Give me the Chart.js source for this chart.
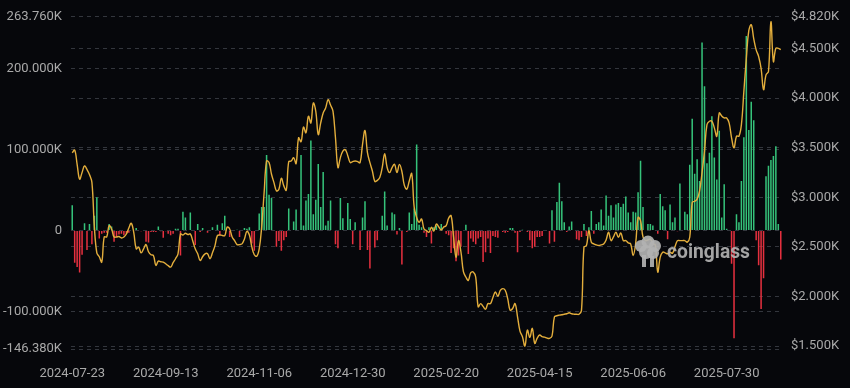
<!DOCTYPE html>
<html>
<head>
<meta charset="utf-8">
<script src="https://cdn.jsdelivr.net/npm/chart.js@4.4.1/dist/chart.umd.min.js"></script>
<style>
  html, body { margin: 0; padding: 0; background: #06070b; }
  #wrap { width: 850px; height: 388px; position: relative; }
</style>
</head>
<body>
<div id="wrap"><canvas id="chart-flows"></canvas></div>
<script>
// ETH ETF net flow (K ETH, one value per weekday from START_DATE) and ETH price (USD)
const START_DATE = "2024-07-23";

const TICK_LABELS = ["2024-07-23", "2024-09-13", "2024-11-06", "2024-12-30",
  "2025-02-20", "2025-04-15", "2025-06-06", "2025-07-30"];

const LEFT_TICKS = [-146.38, -100, 0, 100, 200, 263.76];
const RIGHT_TICKS = [1500, 2000, 2500, 3000, 3500, 4000, 4500, 4820];

const FLOWS_K = [
  31, -40, -45, -52, -30, 9, -24, 8, -17, 18,
  41, -10, -4, -3, -3, 8, 5, -14, -8, -5,
  -4, -6, -4, -3, 0, 0, 3, 0, -1, 0,
  -14, -15, -2, -2, -2, 5, -1, -9, -1, -4,
  -6, -4, 2, 2, -31, 23, 16, 0, 22, 0,
  -18, 8, -2, 3, 0, -3, 0, 4, 0, 7,
  -6, 9, 18, 0, -8, 0, 0, 1, -8, 0,
  3, 2, 4, -16, -25, 0, 21, 29, 29, 93,
  44, 40, 0, -20, -13, -25, -12, -8, 27, 0,
  11, 26, 0, 93, 6, 37, 45, 111, 20, 38,
  82, 29, 72, 6, 12, 37, 0, -17, -22, 40,
  15, 0, 34, 14, -17, 10, 0, -24, 16, 36,
  -24, -47, 0, -21, -12, 0, 18, 48, 6, 0,
  22, 20, -5, 3, -42, 0, -2, 22, 8, 27,
  106, 7, 4, -3, -8, 4, -16, 4, 6, 0,
  8, 0, -4, -6, -28, -22, -38, -31, -20, 0,
  7, -29, -10, -14, -17, -10, -8, -39, -27, -10,
  -28, -7, -8, -9, 0, -2, -3, -2, 3, 3,
  -3, -27, -2, 1, 0, -2, -12, -22, -20, -8,
  -8, -7, 0, 0, -16, 25, -14, 35, 59, 36,
  10, -2, 5, 11, 0, -11, -12, -8, 8, -7,
  4, 24, -4, 8, 10, 26, 6, 43, 18, 31,
  16, 32, 34, 29, 33, 42, 22, 10, 23, 22,
  47, 86, 29, 0, 8, 8, 6, 0, -4, 45,
  30, 25, -11, 32, 10, 16, -1, 58, 0, 23,
  20, 81, 138, 70, 88, 61, 232, 178, 83, 96,
  141, 90, 63, 123, 16, 57, 2, 0, -41, -133,
  20, 10, 61, 115, 240, 124, 159, 136, -12, -43,
  -97, -59, 67, 80, 87, 92, 104, 8, -36
];

const PRICE_USD = [
  3449, 3476, 3330, 3182, 3250, 3316, 3280, 3230, 3150, 2700,
  2440, 2400, 2346, 2600, 2600, 2714, 2680, 2600, 2600, 2604,
  2590, 2600, 2630, 2690, 2737, 2647, 2480, 2497, 2440, 2480,
  2523, 2450, 2420, 2413, 2313, 2356, 2350, 2346, 2330, 2310,
  2296, 2340, 2380, 2430, 2630, 2620, 2637, 2624, 2630, 2560,
  2480, 2430, 2363, 2400, 2430, 2430, 2380, 2440, 2510, 2613,
  2620, 2615, 2613, 2700, 2680, 2600, 2563, 2523, 2523, 2530,
  2580, 2657, 2620, 2500, 2420, 2406, 2480, 2700, 3048, 3366,
  3350, 3232, 3148, 3065, 3082, 3192, 3115, 3072, 3359, 3366,
  3399, 3339, 3600, 3560, 3707, 3650, 3817, 3750, 3950, 3867,
  3633, 3750, 3850, 3900, 3984, 3930, 3867, 3600, 3300, 3400,
  3466, 3480, 3420, 3349, 3360, 3366, 3360, 3349, 3533, 3673,
  3450, 3349, 3265, 3160, 3170, 3199, 3299, 3439, 3300, 3249,
  3299, 3332, 3249, 3332, 3260, 3120, 3082, 3165, 3239, 2898,
  2797, 2747, 2781, 2680, 2664, 2647, 2697, 2660, 2731, 2700,
  2670, 2700, 2714, 2790, 2814, 2600, 2396, 2563, 2450, 2250,
  2196, 2162, 2240, 2246, 2196, 1895, 1928, 1900, 1871, 1928,
  1928, 1990, 2045, 2002, 2060, 2079, 2062, 1978, 1861, 1878,
  1928, 1795, 1650, 1594, 1500, 1661, 1587, 1678, 1527, 1580,
  1611, 1594, 1590, 1580, 1577, 1600, 1794, 1805, 1811, 1815,
  1821, 1825, 1835, 1825, 1821, 1820, 1821, 1860, 2497, 2513,
  2664, 2547, 2530, 2520, 2513, 2520, 2530, 2570, 2647, 2563,
  2600, 2647, 2597, 2640, 2563, 2563, 2540, 2530, 2413, 2530,
  2797, 2764, 2600, 2563, 2570, 2580, 2530, 2520, 2246, 2396,
  2446, 2440, 2430, 2446, 2436, 2500, 2563, 2563, 2563, 2563,
  2547, 2597, 2948, 2960, 2981, 3065, 3249, 3466, 3733, 3767,
  3767, 3700, 3616, 3850, 3820, 3800, 3800, 3750, 3600, 3499,
  3616, 3616, 3733, 4068, 4400, 4680, 4740, 4600, 4486, 4420,
  4300, 4085, 4235, 4268, 4770, 4369, 4502, 4502, 4490
];

(function () {
  const COLORS = {
    bg: "#06070b",
    up: "#35c27a",
    down: "#e5303f",
    price: "#e3ae3c",
    grid: "#33363d",
    text: "#a9a9a9",
  };
  const FONT = { family: "Roboto, 'Noto Sans', sans-serif", size: 13 };

  // one category per weekday
  function weekdays(start, n) {
    const out = [];
    const d = new Date(start + "T00:00:00Z");
    while (out.length < n) {
      const wd = d.getUTCDay();
      if (wd !== 0 && wd !== 6) out.push(d.toISOString().slice(0, 10));
      d.setUTCDate(d.getUTCDate() + 1);
    }
    return out;
  }

  const labels = weekdays(START_DATE, FLOWS_K.length);

  const fmtLeft = (v) => (v === 0 ? "0" : v.toFixed(3) + "K");
  const fmtRight = (v) => "$" + (v / 1000).toFixed(3) + "K";

  const watermark = {
    id: "watermark",
    afterDatasetsDraw(chart) {
      const ctx = chart.ctx;
      ctx.save();
      ctx.fillStyle = "rgba(178,178,178,0.92)";
      // logo blob
      [[641, 246, 6], [648, 242, 6.5], [655, 246, 6], [646, 252, 7], [653, 253, 6]].forEach(([x, y, r]) => {
        ctx.beginPath(); ctx.arc(x, y, r, 0, Math.PI * 2); ctx.fill();
      });
      ctx.fillRect(642, 255, 4, 12);
      ctx.fillRect(650, 256, 4, 11);
      ctx.font = "bold 20px Roboto, sans-serif";
      ctx.textBaseline = "alphabetic";
      ctx.fillText("coinglass", 667, 258, 83);
      ctx.restore();
    },
  };

  const bgPlugin = {
    id: "bg",
    beforeDraw(chart) {
      const ctx = chart.ctx;
      ctx.save();
      ctx.fillStyle = COLORS.bg;
      ctx.fillRect(0, 0, chart.width, chart.height);
      ctx.restore();
    },
  };

  new Chart(document.getElementById("chart-flows"), {
    type: "bar",
    data: {
      labels,
      datasets: [
        {
          type: "line",
          label: "Price",
          data: PRICE_USD,
          yAxisID: "y1",
          borderColor: COLORS.price,
          borderWidth: 1.4,
          pointRadius: 0,
          tension: 0.4,
          order: 0,
        },
        {
          type: "bar",
          label: "Net flow",
          data: FLOWS_K,
          yAxisID: "y",
          backgroundColor: FLOWS_K.map((v) => (v >= 0 ? COLORS.up : COLORS.down)),
          barPercentage: 0.62,
          categoryPercentage: 1,
          order: 1,
        },
      ],
    },
    options: {
      responsive: true, maintainAspectRatio: false, animation: false,
      layout: { padding: { top: 15, right: 0, bottom: 0, left: 0 } },
      plugins: { legend: { display: false }, tooltip: { enabled: false } },
      scales: {
        x: {
          grid: { display: false },
          border: { display: false },
          ticks: {
            autoSkip: false, maxRotation: 0, padding: 9, color: COLORS.text, font: FONT,
            callback: function (val) {
              const lbl = this.getLabelForValue(val);
              return TICK_LABELS.includes(lbl) ? lbl : "";
            },
          },
          afterFit: (s) => { s.height = 39; },
        },
        y: {
          position: "left",
          min: LEFT_TICKS[0], max: LEFT_TICKS[LEFT_TICKS.length - 1],
          afterBuildTicks: (s) => { s.ticks = LEFT_TICKS.map((value) => ({ value })); },
          grid: { color: COLORS.grid, drawTicks: false },
          border: { display: false, dash: [4, 4] },
          ticks: { padding: 9, color: COLORS.text, font: FONT, callback: fmtLeft },
          afterFit: (s) => { s.width = 71; },
        },
        y1: {
          position: "right",
          min: 1470, max: 4820,
          afterBuildTicks: (s) => { s.ticks = RIGHT_TICKS.map((value) => ({ value })); },
          grid: { color: COLORS.grid, drawTicks: false },
          border: { display: false, dash: [4, 4] },
          ticks: { padding: 9, color: COLORS.text, font: FONT, callback: fmtRight },
          afterFit: (s) => { s.width = 68; },
        },
      },
    },
    plugins: [bgPlugin, watermark],
  });
})();
</script>
</body>
</html>
